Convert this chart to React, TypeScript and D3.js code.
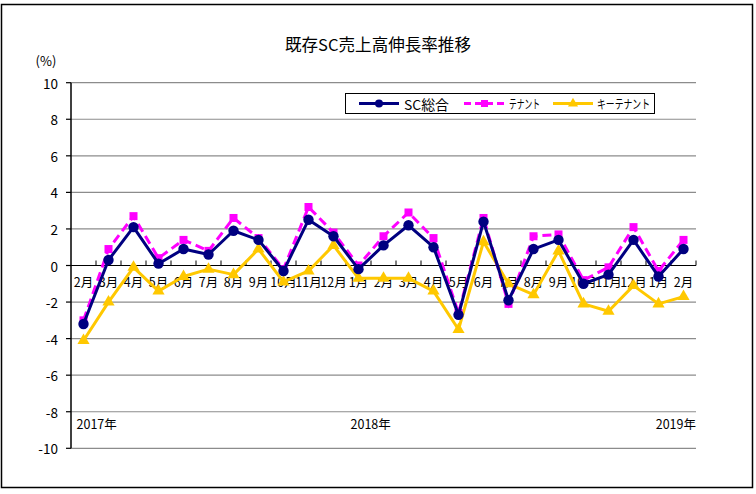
import React from "react";
import * as d3 from "d3";

const months = ["2月","3月","4月","5月","6月","7月","8月","9月","10月","11月","12月","1月","2月","3月","4月","5月","6月","7月","8月","9月","10月","11月","12月","1月","2月"];
const years = [{ label: "2017年", index: 0 }, { label: "2018年", index: 11 }, { label: "2019年", index: 24 }];
const scTotal = [-3.2,0.3,2.1,0.1,0.9,0.6,1.9,1.4,-0.3,2.5,1.6,-0.2,1.1,2.2,1.0,-2.7,2.4,-1.9,0.9,1.4,-1.0,-0.5,1.4,-0.6,0.9];
const tenant = [-3.0,0.9,2.7,0.4,1.4,0.8,2.6,1.5,-0.2,3.2,1.8,0.0,1.6,2.9,1.5,-2.6,2.6,-2.1,1.6,1.7,-0.8,-0.1,2.1,-0.3,1.4];
const keyTenant = [-4.1,-2.0,-0.1,-1.4,-0.6,-0.2,-0.5,0.9,-0.9,-0.3,1.1,-0.7,-0.7,-0.7,-1.4,-3.5,1.3,-1.0,-1.6,0.8,-2.1,-2.5,-1.1,-2.1,-1.7];
const yTicks = [10,8,6,4,2,0,-2,-4,-6,-8,-10];
const seriesNames = ["SC総合","テナント","キーテナント"];

const W = 756, H = 494;
const left = 71, right = 696, top = 82.7, bottom = 448.3;
const font = "'Noto Sans CJK JP', 'Noto Sans', sans-serif";

export default function App() {
  const x = d3.scaleBand<number>().domain(months.map((_, i) => i)).range([left, right]);
  const y = d3.scaleLinear().domain([-10, 10]).range([bottom, top]);
  const cx = (i: number) => (x(i) as number) + x.bandwidth() / 2;
  const line = d3.line<number>().x((_, i) => cx(i)).y((d) => y(d));
  const tri = d3.symbol().type(d3.symbolTriangle).size(64)() as string;
  const triSmall = d3.symbol().type(d3.symbolTriangle).size(44)() as string;

  const navy = "#000080", magenta = "#FF00FF", gold = "#FFC800";

  return (
    <svg width={W} height={H} style={{ position: "absolute", left: 0, top: 0, background: "#fff" }} fontFamily={font}>
      <rect x={1.5} y={4.5} width={751} height={483} fill="#fff" stroke="#000" strokeWidth={1.5} />
      <text x={378} y={44} textAnchor="middle" dominantBaseline="central" fontSize={16.5} textLength={186} lengthAdjust="spacingAndGlyphs">既存SC売上高伸長率推移</text>
      <text x={46} y={60} textAnchor="middle" dominantBaseline="central" fontSize={13}>(%)</text>
      {yTicks.map((t) => (
        <g key={t}>
          {t !== 0 && <line x1={left} x2={right} y1={y(t)} y2={y(t)} stroke="#8c8c8c" strokeWidth={1.2} />}
          <line x1={left - 5} x2={left} y1={y(t)} y2={y(t)} stroke="#000" strokeWidth={1.2} />
          <text x={58} y={y(t)} textAnchor="end" dominantBaseline="central" fontSize={13.5}>{t}</text>
        </g>
      ))}
      <line x1={left} x2={left} y1={top} y2={bottom} stroke="#000" strokeWidth={1.5} />
      <line x1={left} x2={right} y1={y(0)} y2={y(0)} stroke="#000" strokeWidth={1.2} />
      {months.map((_, i) => i > 0 && (
        <line key={"t" + i} x1={x(i) as number} x2={x(i) as number} y1={y(0)} y2={y(0) - 5} stroke="#000" strokeWidth={1} />
      ))}
      <line x1={right} x2={right} y1={y(0)} y2={y(0) - 5} stroke="#000" strokeWidth={1} />
      {months.map((m, i) => (
        <text key={"m" + i} x={cx(i)} y={281} textAnchor="middle" dominantBaseline="central" fontSize={12.5}>{m}</text>
      ))}
      {years.map((yr, k) => (
        <text key={yr.label} x={k === 2 ? right : (x(yr.index) as number) + (k === 0 ? 5.5 : 4.5)} y={423} textAnchor={k === 2 ? "end" : "start"} dominantBaseline="central" fontSize={12.5}>{yr.label}</text>
      ))}

      <path d={line(keyTenant) as string} fill="none" stroke={gold} strokeWidth={3} strokeLinejoin="round" />
      {keyTenant.map((v, i) => (
        <path key={"k" + i} d={tri} transform={`translate(${cx(i)},${y(v)})`} fill={gold} />
      ))}
      <path d={line(tenant) as string} fill="none" stroke={magenta} strokeWidth={3} strokeDasharray="9,5" />
      {tenant.map((v, i) => (
        <rect key={"te" + i} x={cx(i) - 4} y={y(v) - 4} width={8} height={8} fill={magenta} />
      ))}
      <path d={line(scTotal) as string} fill="none" stroke={navy} strokeWidth={3} strokeLinejoin="round" />
      {scTotal.map((v, i) => (
        <circle key={"s" + i} cx={cx(i)} cy={y(v)} r={5.2} fill={navy} />
      ))}

      <g>
        <rect x={345.5} y={93.5} width={309} height={20} fill="#fff" stroke="#000" strokeWidth={1} />
        <line x1={359} x2={399} y1={103.5} y2={103.5} stroke={navy} strokeWidth={3} />
        <circle cx={379} cy={103.5} r={4} fill={navy} />
        <text x={404} y={103.5} dominantBaseline="central" fontSize={13.5} textLength={45} lengthAdjust="spacingAndGlyphs">{seriesNames[0]}</text>
        <line x1={464} x2={505} y1={103.5} y2={103.5} stroke={magenta} strokeWidth={3} strokeDasharray="7,4" />
        <rect x={481} y={100} width={7} height={7} fill={magenta} />
        <text x={509} y={103.5} dominantBaseline="central" fontSize={12.5} textLength={31} lengthAdjust="spacingAndGlyphs">{seriesNames[1]}</text>
        <line x1={553} x2={593} y1={103.5} y2={103.5} stroke={gold} strokeWidth={3} />
        <path d={triSmall} transform="translate(573,103.5)" fill={gold} />
        <text x={597} y={103.5} dominantBaseline="central" fontSize={12.5} textLength={53} lengthAdjust="spacingAndGlyphs">{seriesNames[2]}</text>
      </g>
    </svg>
  );
}
